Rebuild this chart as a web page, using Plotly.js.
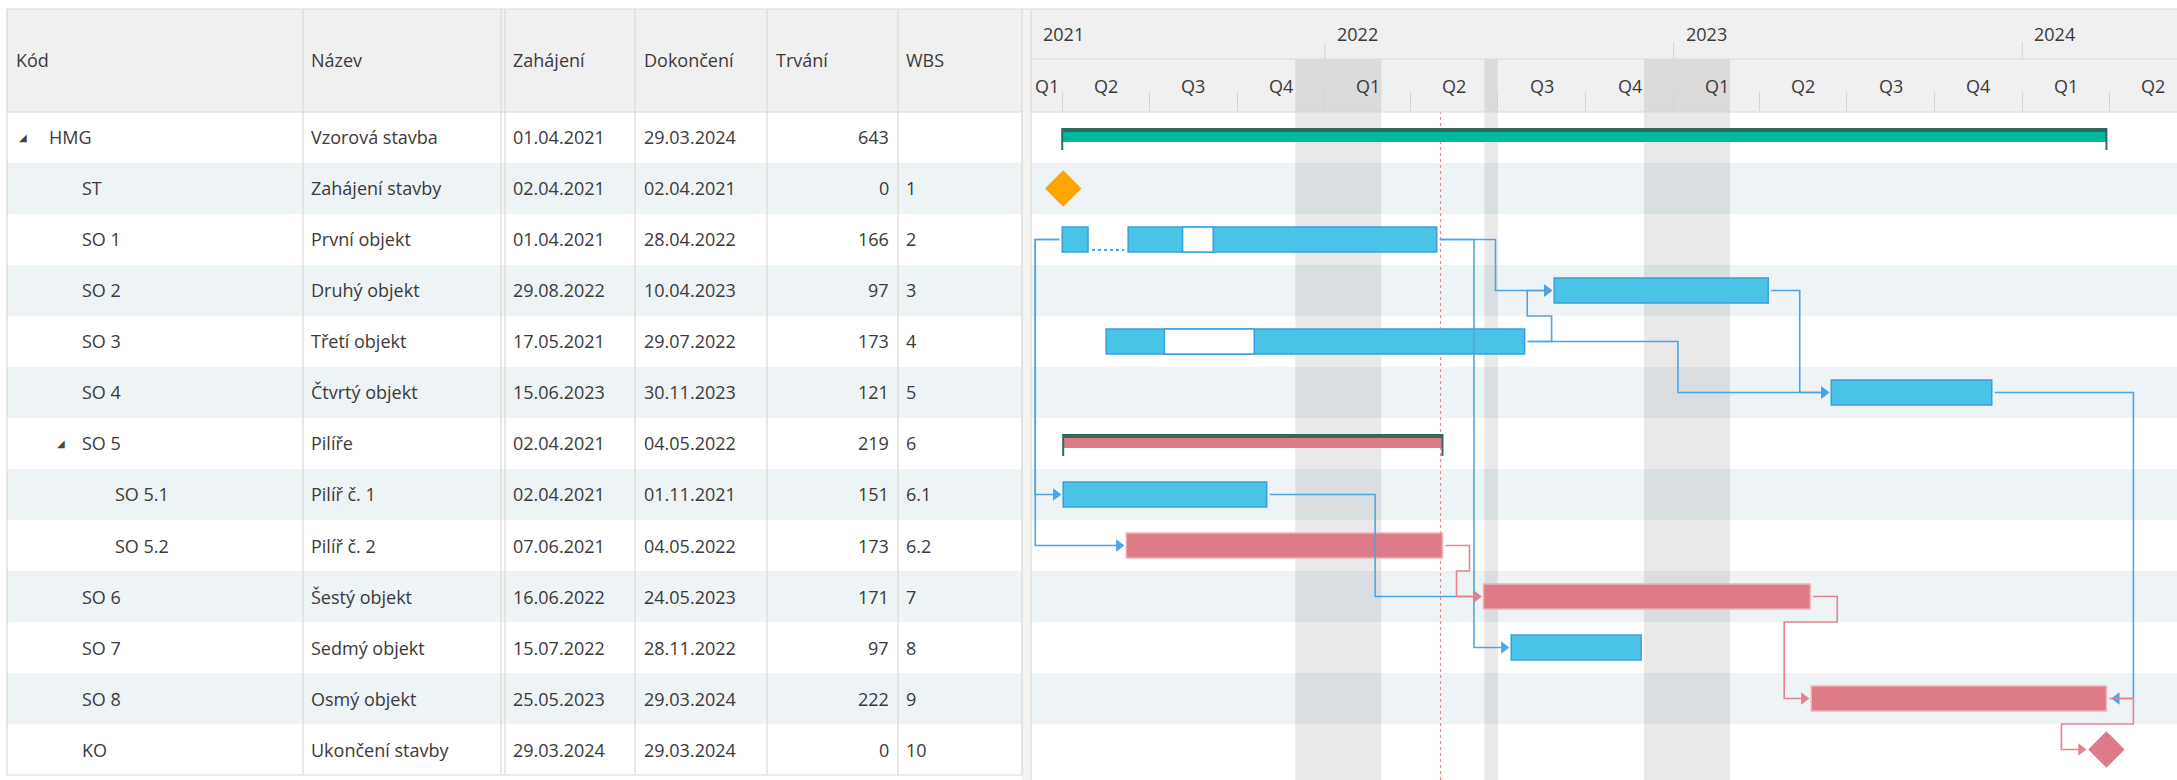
<!DOCTYPE html>
<html>
<head>
<meta charset="utf-8">
<script src="https://cdn.plot.ly/plotly-3.0.1.min.js"></script>
<style>
html,body{margin:0;padding:0;background:#ffffff;overflow:hidden}
#chart{width:2177px;height:780px}
</style>
</head>
<body>
<div id="chart"></div>
<script>
// ---------------- DATA ----------------
const codes = ['HMG','ST','SO 1','SO 2','SO 3','SO 4','SO 5','SO 5.1','SO 5.2','SO 6','SO 7','SO 8','KO'];
const names = ['Vzorová stavba','Zahájení stavby','První objekt','Druhý objekt','Třetí objekt','Čtvrtý objekt','Pilíře','Pilíř č. 1','Pilíř č. 2','Šestý objekt','Sedmý objekt','Osmý objekt','Ukončení stavby'];
const startText = ['01.04.2021','02.04.2021','01.04.2021','29.08.2022','17.05.2021','15.06.2023','02.04.2021','02.04.2021','07.06.2021','16.06.2022','15.07.2022','25.05.2023','29.03.2024'];
const endText = ['29.03.2024','02.04.2021','28.04.2022','10.04.2023','29.07.2022','30.11.2023','04.05.2022','01.11.2021','04.05.2022','24.05.2023','28.11.2022','29.03.2024','29.03.2024'];
const durations = [643,0,166,97,173,121,219,151,173,171,97,222,0];
const wbs = ['','1','2','3','4','5','6','6.1','6.2','7','8','9','10'];
const levels = [0,1,1,1,1,1,1,2,2,1,1,1,1];
const hasChildren = [true,false,false,false,false,false,true,false,false,false,false,false,false];
const taskTypes = ['summary','milestone','task','task','task','task','summary','task','task','task','task','task','milestone'];
const critical = [false,false,false,false,false,false,true,false,true,true,false,true,true];

// split task (dotted gap) and interruptions (white boxes)
const splitRows = [2];
const splitStarts = ['2021-04-28'];
const splitEnds = ['2021-06-09'];
const pauseRows = [2,4];
const pauseStarts = ['2021-08-05','2021-07-17'];
const pauseEnds = ['2021-09-06','2021-10-19'];

// dependencies
const linkFrom = [2,2,2,2,4,4,3,5,7,8,9,11];
const linkTo   = [7,8,3,10,3,5,5,11,9,9,11,12];
const linkType = ['SS','SS','FS','FS','FS','FS','FS','FF','FS','FS','FS','FS'];

// time scale
const yearTicks = ['2021-01-01','2022-01-01','2023-01-01','2024-01-01'];
const yearLabels = ['2021','2022','2023','2024'];
const quarterTicks = ['2021-01-01','2021-04-01','2021-07-01','2021-10-01','2022-01-01','2022-04-01','2022-07-01','2022-10-01','2023-01-01','2023-04-01','2023-07-01','2023-10-01','2024-01-01','2024-04-01'];
const quarterLabels = ['Q1','Q2','Q3','Q4','Q1','Q2','Q3','Q4','Q1','Q2','Q3','Q4','Q1','Q2'];
const nonWorkStarts = ['2021-12-01','2022-06-17','2022-12-01'];
const nonWorkEnds = ['2022-03-01','2022-07-01','2023-03-01'];
const todayDate = '2022-05-02';
const tableHeaders = ['Kód','Název','Zahájení','Dokončení','Trvání','WBS'];

// ---------------- LAYOUT CONSTANTS ----------------
const W = 2177, H = 780;
const TABLE_L = 7, TABLE_R = 1022, GANTT_L = 1031;
const HEAD_TOP = 9, YEAR_BOT = 59, HEAD_BOT = 112, BODY_BOT = 775;
const colLines = [7,303,501,505,635,767,898,1022];
const headerX = [15,310,512,643,775,905];
const X0 = '2021-02-27 07:12', X1 = '2024-06-10 21:36', VIEW_END = '2024-07-01';
const FONT = 'Open Sans, Noto Sans, sans-serif';
const FS = 18, TXT = '#3a3a3a', LINE = '#dcd9d1';
const BLUE = '#49c3e6', BLUE_B = '#3b9de0', PINK = '#de7b88', PINK_B = '#efb3ba';
const GREEN = '#00b89b', DARK = '#2f6a5c';
const LINK_BLUE = '#4ea5e4', LINK_PINK = '#e2838f';

const px2x = p => p / W;
const px2y = p => 1 - p / H;
const ms = s => { const [d,t] = s.split(' '); const [y,m,dd] = d.split('-').map(Number); let h=0, mi=0; if (t) { [h,mi] = t.split(':').map(Number); } return Date.UTC(y,m-1,dd,h,mi); };
const fromCz = s => { const [d,m,y] = s.split('.'); return y + '-' + m + '-' + d; };
const fmt = v => new Date(v).toISOString().replace('T',' ').replace('Z','');

const r0 = ms(X0), r1 = ms(X1);
const plotW = W - GANTT_L;
const msPerPx = (r1 - r0) / plotW;
const P = p => p * msPerPx;
const rowPx = (BODY_BOT - HEAD_BOT) / codes.length;
const sMs = startText.map(s => ms(fromCz(s)));
const eMs = endText.map(s => ms(fromCz(s)));

const traces = [];

// ---------- task bars ----------
const blueBars = {y:[],x:[],base:[]}, pinkBars = {y:[],x:[],base:[]};
codes.forEach((c,i) => {
  if (taskTypes[i] !== 'task') return;
  let segs = [[sMs[i], eMs[i]]];
  splitRows.forEach((r,k) => {
    if (r !== i) return;
    const a = ms(splitStarts[k]), b = ms(splitEnds[k]);
    segs = segs.flatMap(([s,e]) => (a > s && b < e) ? [[s,a],[b,e]] : [[s,e]]);
  });
  const t = critical[i] ? pinkBars : blueBars;
  segs.forEach(([s,e]) => { t.y.push(i); t.base.push(fmt(s)); t.x.push(e - s); });
});
[[blueBars, BLUE, BLUE_B], [pinkBars, PINK, PINK_B]].forEach(([d, fill, border]) => {
  traces.push({type:'bar', orientation:'h', y:d.y, x:d.x, base:d.base, width:25/rowPx,
    marker:{color:fill, line:{color:border, width:1.5}}, hoverinfo:'skip', showlegend:false});
});

// interruptions (white boxes)
traces.push({type:'bar', orientation:'h', y:pauseRows,
  x:pauseRows.map((r,k) => ms(pauseEnds[k]) - ms(pauseStarts[k])),
  base:pauseStarts.map(s => fmt(ms(s))), width:25/rowPx,
  marker:{color:'#ffffff', line:{color:BLUE_B, width:1.5}}, hoverinfo:'skip', showlegend:false});

// split dotted connector
const sx = [], sy = [];
splitRows.forEach((r,k) => {
  sx.push(fmt(ms(splitStarts[k]) + P(4)), fmt(ms(splitEnds[k]) - P(4)), null);
  sy.push(r + 10.5/rowPx, r + 10.5/rowPx, null);
});
traces.push({type:'scatter', mode:'lines', x:sx, y:sy, line:{color:LINK_BLUE, width:2, dash:'dot'}, hoverinfo:'skip', showlegend:false});

// ---------- summary bars ----------
const sumRows = [], sumDur = [], sumBase = [], sumCol = [];
const tickX = [], tickY = [];
codes.forEach((c,i) => {
  if (taskTypes[i] !== 'summary') return;
  sumRows.push(i); sumDur.push(eMs[i] - sMs[i]); sumBase.push(fmt(sMs[i]));
  sumCol.push(critical[i] ? PINK : GREEN);
  [sMs[i], eMs[i]].forEach(v => { tickX.push(fmt(v), fmt(v), null); tickY.push(i - 9.5/rowPx, i + 12.5/rowPx, null); });
});
traces.push({type:'bar', orientation:'h', y:sumRows, x:sumDur, base:sumBase, width:10/rowPx, offset:-6/rowPx,
  marker:{color:sumCol, line:{width:0}}, hoverinfo:'skip', showlegend:false});
traces.push({type:'bar', orientation:'h', y:sumRows, x:sumDur, base:sumBase, width:3.5/rowPx, offset:-9.5/rowPx,
  marker:{color:DARK, line:{width:0}}, hoverinfo:'skip', showlegend:false});
traces.push({type:'scatter', mode:'lines', x:tickX, y:tickY, line:{color:DARK, width:2}, hoverinfo:'skip', showlegend:false});

// ---------- links ----------
const MS_HALF = 18, GAP = 27, PAD = 3, ARW = 6.35;
const visStart = i => taskTypes[i] === 'milestone' ? sMs[i] - P(MS_HALF) : sMs[i];
const visEnd = i => taskTypes[i] === 'milestone' ? eMs[i] + P(MS_HALF) : eMs[i];
const linkLines = {b:{x:[],y:[]}, p:{x:[],y:[]}};
const arrows = {b:{x:[],y:[],s:[]}, p:{x:[],y:[],s:[]}};
linkFrom.forEach((a,k) => {
  const b = linkTo[k], t = linkType[k];
  const key = (critical[a] && critical[b]) ? 'p' : 'b';
  let pts, ax, sym;
  if (t === 'FS') {
    const s = visEnd(a), tx = visStart(b), tip = tx - P(1);
    ax = tip - P(ARW); sym = 'triangle-right';
    if (tx - s >= P(2*GAP)) {
      const mx = (s + tx) / 2;
      pts = [[s+P(PAD),a],[mx,a],[mx,b],[ax,b]];
    } else {
      const by = b > a ? a + 0.5 : a - 0.5;
      pts = [[s+P(PAD),a],[s+P(GAP),a],[s+P(GAP),by],[tx-P(GAP),by],[tx-P(GAP),b],[ax,b]];
    }
  } else if (t === 'SS') {
    const s = visStart(a), tx = visStart(b), mx = Math.min(s,tx) - P(GAP), tip = tx - P(1);
    ax = tip - P(ARW); sym = 'triangle-right';
    pts = [[s-P(PAD),a],[mx,a],[mx,b],[ax,b]];
  } else {
    const s = visEnd(a), tx = visEnd(b), mx = Math.max(s,tx) + P(GAP), tip = tx + P(4);
    ax = tip + P(ARW); sym = 'triangle-left';
    pts = [[s+P(PAD),a],[mx,a],[mx,b],[ax,b]];
  }
  pts.forEach(([x,y]) => { linkLines[key].x.push(fmt(x)); linkLines[key].y.push(y); });
  linkLines[key].x.push(null); linkLines[key].y.push(null);
  arrows[key].x.push(fmt(ax)); arrows[key].y.push(b); arrows[key].s.push(sym);
});
[['b',LINK_BLUE],['p',LINK_PINK]].forEach(([k,col]) => {
  traces.push({type:'scatter', mode:'lines', x:linkLines[k].x, y:linkLines[k].y, line:{color:col, width:1.6}, hoverinfo:'skip', showlegend:false});
  traces.push({type:'scatter', mode:'markers', x:arrows[k].x, y:arrows[k].y, marker:{symbol:arrows[k].s, size:11, color:col, line:{width:0}}, hoverinfo:'skip', showlegend:false});
});

// ---------- milestones ----------
const msRows = codes.map((c,i) => i).filter(i => taskTypes[i] === 'milestone');
traces.push({type:'scatter', mode:'markers', x:msRows.map(i => fmt(sMs[i])), y:msRows,
  marker:{symbol:'diamond', size:28, color:msRows.map(i => critical[i] ? PINK : '#ffa500'), line:{width:0}},
  hoverinfo:'skip', showlegend:false});

// ---------------- SHAPES ----------------
const shapes = [];
const rect = (x0,x1,y0,y1,fill) => shapes.push({type:'rect', xref:'paper', yref:'paper', x0:px2x(x0), x1:px2x(x1), y0:px2y(y1), y1:px2y(y0), fillcolor:fill, line:{width:0}, layer:'below'});
rect(TABLE_L, TABLE_R, HEAD_TOP, HEAD_BOT, '#f0f0f0');
rect(GANTT_L, W, HEAD_TOP, HEAD_BOT, '#f0f0f0');
codes.forEach((c,i) => {
  if (i % 2 === 1) shapes.push({type:'rect', xref:'paper', yref:'y', x0:px2x(TABLE_L), x1:1, y0:i-0.5, y1:i+0.5, fillcolor:'#eef3f6', line:{width:0}, layer:'below'});
});
rect(TABLE_R, GANTT_L, HEAD_TOP, H, '#f3f3f2');
nonWorkStarts.forEach((s,k) => shapes.push({type:'rect', xref:'x', yref:'paper', x0:s, x1:nonWorkEnds[k], y0:0, y1:px2y(YEAR_BOT), fillcolor:'rgba(0,0,0,0.085)', line:{width:0}, layer:'below'}));
shapes.push({type:'line', xref:'x', yref:'paper', x0:todayDate, x1:todayDate, y0:0, y1:px2y(HEAD_BOT), line:{color:'#f08a8a', width:1.2, dash:'dot'}, layer:'below'});
const hline = (x0,x1,y) => shapes.push({type:'line', xref:'paper', yref:'paper', x0:px2x(x0), x1:px2x(x1), y0:px2y(y), y1:px2y(y), line:{color:LINE, width:1.2}, layer:'below'});
const vline = (x,y0,y1) => shapes.push({type:'line', xref:'paper', yref:'paper', x0:px2x(x), x1:px2x(x), y0:px2y(y0), y1:px2y(y1), line:{color:LINE, width:1.2}, layer:'below'});
hline(TABLE_L, W, HEAD_TOP);
hline(GANTT_L, W, YEAR_BOT);
hline(TABLE_L, TABLE_R, HEAD_BOT);
hline(GANTT_L, W, HEAD_BOT);
hline(TABLE_L, TABLE_R, BODY_BOT);
colLines.forEach(x => vline(x, HEAD_TOP, BODY_BOT));
vline(GANTT_L, HEAD_TOP, H);
yearTicks.forEach(d => shapes.push({type:'line', xref:'x', yref:'paper', x0:d, x1:d, y0:px2y(YEAR_BOT), y1:px2y(42), line:{color:'#d6d3ca', width:1}, layer:'below'}));

// ---------------- ANNOTATIONS ----------------
const ann = [];
const txt = (x, y, yref, text, anchor, extra) => ann.push(Object.assign({xref:'paper', yref:yref, x:px2x(x), y:y, text:text, showarrow:false, xanchor:anchor, yanchor:'middle', borderpad:0, font:{family:FONT, size:FS, color:TXT}}, extra || {}));
tableHeaders.forEach((h,k) => txt(headerX[k], px2y((HEAD_TOP + HEAD_BOT)/2), 'paper', h, 'left'));
codes.forEach((c,i) => {
  const cx = 48 + 33*levels[i];
  txt(cx, i, 'y', c, 'left');
  if (hasChildren[i]) txt(23 + 38*levels[i], i, 'y', '◢', 'center', {font:{family:'DejaVu Sans', size:10, color:'#444'}});
  txt(310, i, 'y', names[i], 'left');
  txt(512, i, 'y', startText[i], 'left');
  txt(643, i, 'y', endText[i], 'left');
  txt(890, i, 'y', String(durations[i]), 'right');
  if (wbs[i]) txt(905, i, 'y', wbs[i], 'left');
});
// time scale labels
yearTicks.forEach((d,k) => {
  const v = Math.max(ms(d), r0);
  ann.push({xref:'x', yref:'paper', x:fmt(v), y:px2y((HEAD_TOP + YEAR_BOT)/2), xshift:11, text:yearLabels[k], showarrow:false, xanchor:'left', yanchor:'middle', borderpad:0, font:{family:FONT, size:FS, color:TXT}});
});
const vEnd = ms(VIEW_END);
quarterTicks.forEach((d,k) => {
  const a = Math.max(ms(d), r0);
  const b = Math.min(k + 1 < quarterTicks.length ? ms(quarterTicks[k+1]) : vEnd, vEnd);
  if (b <= a) return;
  ann.push({xref:'x', yref:'paper', x:fmt((a + b)/2), y:px2y((YEAR_BOT + HEAD_BOT)/2), text:quarterLabels[k], showarrow:false, xanchor:'center', yanchor:'middle', borderpad:0, font:{family:FONT, size:FS, color:TXT}});
});

const layout = {
  width: W, height: H,
  margin: {l:0, r:0, t:0, b:0, pad:0},
  paper_bgcolor: '#ffffff', plot_bgcolor: 'rgba(0,0,0,0)',
  barmode: 'overlay', bargap: 0,
  showlegend: false, hovermode: false,
  xaxis: {type:'date', domain:[px2x(GANTT_L), 1], range:[X0, X1], side:'top', anchor:'y',
    tickmode:'array', tickvals:quarterTicks, ticks:'outside', ticklen:19, tickwidth:1, tickcolor:'#d6d3ca',
    showticklabels:false, showgrid:false, zeroline:false, showline:false, fixedrange:true},
  yaxis: {domain:[px2y(BODY_BOT), px2y(HEAD_BOT)], range:[codes.length - 0.5, -0.5], visible:false,
    showgrid:false, zeroline:false, fixedrange:true},
  shapes: shapes,
  annotations: ann
};

Plotly.newPlot('chart', traces, layout, {staticPlot:true, displayModeBar:false});
</script>
</body>
</html>
